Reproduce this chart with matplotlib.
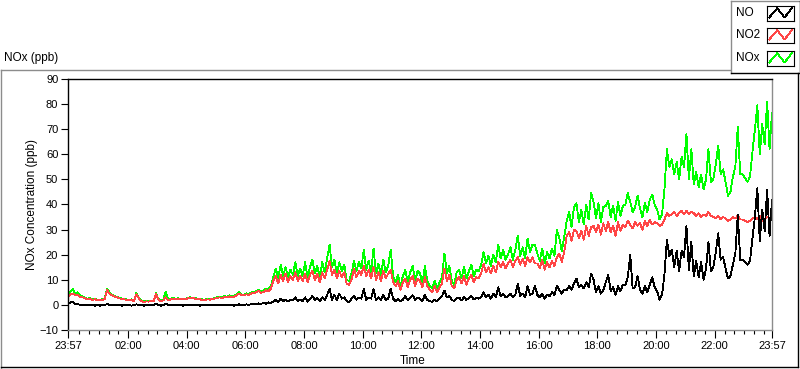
import numpy as np
import matplotlib
matplotlib.use("Agg")
import matplotlib.pyplot as plt
from matplotlib.lines import Line2D

plt.rcParams['font.family'] = ['Liberation Sans', 'DejaVu Sans']

# 5-minute readings, hours since 23:57 (one row per hour)
no2 = [
    3.0, 4.2, 4.5, 3.8, 4.0, 3.2, 3.0, 2.6, 2.2, 2.5, 2.0, 2.2,
    1.8, 1.9, 2.0, 2.3, 5.8, 4.5, 3.8, 3.3, 3.0, 2.6, 2.4, 2.2,
    2.0, 1.8, 2.0, 1.5, 4.3, 2.5, 1.5, 1.2, 1.4, 1.3, 1.6, 1.5,
    4.2, 2.0, 1.5, 1.8, 3.0, 1.8, 2.2, 2.5, 2.3, 2.4, 2.2, 2.3,
    2.2, 2.6, 2.8, 2.7, 2.5, 2.3, 2.2, 2.0, 2.0, 2.2, 2.1, 2.3,
    2.5, 2.8, 3.0, 2.7, 3.2, 3.0, 3.4, 3.1, 3.3, 3.8, 4.5, 3.8,
    3.8, 4.2, 4.0, 4.5, 4.8, 5.0, 5.5, 4.8, 5.2, 5.8, 5.5, 6.5,
    9.5, 11.5, 8.5, 12.0, 9.5, 12.5, 9.0, 11.5, 10.0, 13.0, 9.5, 11.5,
    9.5, 12.5, 9.0, 12.0, 13.5, 10.0, 12.5, 9.0, 13.0, 10.5, 14.0, 17.5,
    12.0, 14.0, 10.5, 13.5, 11.0, 13.0, 8.5, 8.0, 10.0, 14.5, 11.0, 13.5,
    12.0, 15.5, 11.5, 14.0, 10.5, 15.0, 10.0, 13.0, 9.5, 13.5, 10.5, 12.5,
    14.0, 9.0, 7.5, 9.5, 6.0, 9.0, 10.5, 7.0, 10.0, 11.5, 7.5, 10.5,
    9.5, 7.0, 11.0, 7.5, 6.0, 5.0, 7.5, 5.0, 7.0, 8.5, 14.5, 9.5,
    12.0, 7.5, 6.5, 10.0, 11.0, 8.5, 11.5, 8.0, 10.5, 12.0, 9.0, 11.0,
    10.5, 12.5, 16.5, 13.0, 15.0, 12.5, 15.5, 13.0, 17.0, 15.0, 17.0, 14.5,
    16.5, 18.0, 15.0, 17.5, 19.0, 16.0, 18.5, 15.5, 19.0, 17.0, 19.0, 16.5,
    16.5, 14.5, 18.0, 14.0, 17.0, 15.0, 17.5, 15.5, 19.0, 20.5, 17.0, 21.0,
    27.5, 29.0, 25.5, 30.0, 29.5, 26.5, 29.5, 26.0, 31.5, 27.5, 31.0, 31.5,
    29.0, 32.0, 28.0, 32.5, 29.5, 33.0, 29.0, 31.5, 27.5, 33.0, 29.5, 32.0,
    31.0, 33.5, 32.0, 30.5, 33.0, 31.5, 32.5, 30.0, 33.5, 31.5, 34.0, 32.0,
    33.0, 32.5, 31.5, 32.0, 34.0, 36.5, 35.5, 36.0, 37.0, 35.5, 36.5, 37.5,
    36.0, 37.5, 36.0, 37.0, 36.5, 35.5, 36.5, 35.0, 36.0, 35.5, 37.0, 35.5,
    35.0, 34.5, 35.5, 34.0, 35.0, 34.5, 33.5, 34.0, 35.0, 34.5, 35.5, 34.0,
    34.0, 33.5, 33.0, 33.5, 34.5, 35.0, 34.0, 35.5, 33.5, 34.0, 35.0, 34.5,
    34.5,
]
nox = [
    3.5, 5.5, 6.3, 4.5, 5.0, 3.6, 3.4, 2.8, 2.4, 2.7, 2.2, 2.4,
    2.0, 2.1, 2.2, 2.6, 6.5, 5.0, 4.0, 3.5, 3.2, 2.8, 2.5, 2.3,
    2.2, 2.0, 2.2, 1.7, 4.8, 2.8, 1.8, 1.4, 1.5, 1.4, 1.7, 1.6,
    4.6, 2.3, 1.7, 2.2, 5.2, 2.2, 2.5, 2.7, 2.5, 2.6, 2.4, 2.5,
    2.4, 2.8, 3.0, 2.9, 2.7, 2.5, 2.4, 2.2, 2.1, 2.3, 2.2, 2.5,
    2.7, 3.0, 3.3, 2.9, 3.5, 3.2, 3.8, 3.4, 3.6, 4.3, 5.2, 4.2,
    4.0, 4.6, 4.3, 5.0, 5.2, 5.4, 6.0, 5.2, 5.8, 6.5, 6.3, 7.5,
    11.0, 14.5, 10.5, 16.0, 11.5, 15.0, 11.0, 14.0, 12.0, 17.0, 11.5, 14.5,
    11.5, 17.0, 11.0, 15.0, 18.0, 12.5, 15.5, 11.0, 17.0, 13.0, 18.5, 24.0,
    15.0, 18.0, 12.5, 17.0, 13.5, 16.0, 10.0, 9.5, 12.5, 17.5, 13.5, 17.0,
    14.5, 22.0, 14.0, 17.5, 13.0, 22.5, 12.5, 16.5, 12.0, 18.0, 13.0, 15.5,
    22.0, 11.5, 9.0, 12.0, 7.5, 11.5, 14.0, 9.0, 13.0, 15.5, 9.5, 13.5,
    12.5, 8.5, 15.5, 9.5, 7.5, 6.5, 9.5, 6.5, 9.0, 11.0, 20.5, 12.5,
    15.5, 9.5, 8.0, 13.0, 14.0, 10.5, 15.0, 10.5, 13.5, 16.0, 11.5, 14.0,
    13.5, 16.0, 21.0, 16.5, 19.5, 15.5, 20.0, 17.0, 24.0, 18.5, 22.0, 18.0,
    20.0, 23.0, 18.0, 22.0, 27.5, 19.5, 23.0, 18.5, 26.5, 21.0, 24.0, 24.0,
    20.5, 17.5, 22.5, 16.5, 21.0, 18.5, 22.5, 19.5, 30.0, 26.5, 21.5, 27.0,
    33.5, 37.0, 31.0, 39.0, 40.5, 33.0, 38.0, 32.0, 40.0, 34.0, 44.5, 41.0,
    34.5, 40.5, 33.0, 39.0, 39.5, 41.5, 35.0, 39.5, 33.5, 41.0, 35.5, 39.5,
    40.0, 44.5, 41.0, 37.0, 39.0, 43.5, 38.5, 35.0, 40.5, 37.0, 42.0, 44.0,
    40.0, 38.0, 34.0, 36.0, 46.0, 62.0, 55.0, 58.0, 52.0, 57.0, 50.0, 59.0,
    55.0, 68.0, 50.0, 62.0, 48.0, 53.0, 47.0, 52.0, 46.0, 50.0, 62.0, 49.0,
    50.0, 56.0, 63.5, 52.0, 54.0, 49.0, 43.5, 45.0, 51.0, 55.0, 71.0, 52.0,
    52.0, 50.5, 49.0, 51.0, 61.0, 70.0, 79.5, 60.0, 72.0, 64.0, 81.0, 62.0,
    76.5,
]
no = [
    0.5, 1.0, 1.2, 0.4, 0.3, 0.0, 0.0, 0.0, -0.2, 0.0, 0.0, -0.3,
    0.0, -0.3, 0.0, 0.0, 0.3, 0.0, 0.0, -0.2, 0.0, 0.0, -0.3, 0.0,
    0.0, 0.0, -0.3, 0.0, 0.2, 0.0, 0.0, -0.3, 0.0, 0.0, 0.0, -0.2,
    0.5, 0.0, -0.3, 0.0, 0.5, 0.0, 0.0, 0.0, -0.2, 0.0, 0.0, -0.3,
    0.0, 0.0, -0.2, 0.0, 0.0, 0.0, -0.3, 0.0, 0.0, 0.0, -0.2, 0.0,
    0.0, 0.0, 0.0, -0.2, 0.0, 0.0, 0.0, 0.0, -0.3, 0.0, 0.2, 0.0,
    0.0, 0.2, 0.0, 0.3, 0.5, 0.3, 0.6, 0.4, 0.8, 0.5, 1.0, 0.8,
    1.2, 2.0, 1.0, 2.5, 1.5, 2.2, 1.3, 2.0, 1.8, 3.0, 1.5, 2.2,
    1.5, 3.0, 1.2, 2.5, 3.5, 1.8, 2.8, 1.5, 3.0, 2.0, 4.0, 6.4,
    2.0, 4.0, 2.0, 4.5, 2.5, 3.0, 1.5, 1.0, 2.5, 3.5, 2.0, 3.0,
    2.5, 6.4, 2.0, 3.0, 2.5, 6.2, 2.0, 3.0, 1.8, 4.0, 2.0, 2.5,
    6.4, 2.5, 1.5, 2.5, 1.5, 2.0, 3.5, 1.8, 3.0, 3.8, 2.0, 3.0,
    2.5, 1.5, 4.0, 2.0, 1.5, 1.2, 2.0, 1.5, 2.5, 3.5, 5.7, 3.0,
    3.5, 2.0, 1.5, 2.5, 3.0, 1.8, 3.0, 2.0, 2.8, 3.5, 2.2, 2.8,
    2.5, 3.0, 5.0, 3.0, 4.0, 2.5, 4.5, 3.0, 7.0, 3.5, 4.5, 3.0,
    3.5, 4.5, 3.0, 4.0, 8.4, 3.5, 4.5, 3.0, 7.5, 4.0, 4.5, 7.7,
    4.0, 3.0, 4.5, 2.5, 4.0, 3.5, 5.0, 4.0, 7.7, 6.0, 4.5, 6.0,
    6.0, 7.5, 6.0, 8.5, 10.5, 7.0, 8.0, 6.5, 9.0, 7.0, 12.5, 10.0,
    5.0, 7.5, 4.5, 6.0, 9.0, 12.0, 5.5, 7.0, 4.0, 7.5, 5.5, 8.0,
    8.0, 11.0, 20.0, 6.5, 7.0, 11.5, 6.0, 4.5, 7.5, 5.0, 8.0, 11.0,
    7.0, 5.5, 2.0, 4.0, 12.0, 26.0, 19.5, 22.0, 15.0, 21.5, 13.5, 21.5,
    19.0, 31.5, 14.0, 25.0, 11.5, 17.5, 11.0, 17.0, 10.0, 14.5, 25.0, 13.5,
    15.0, 21.0, 28.5, 18.0, 19.0, 14.5, 10.5, 11.5, 16.0, 20.5, 36.0, 18.0,
    18.0, 17.0, 16.0, 17.5, 26.5, 35.0, 46.5, 25.5, 38.0, 29.5, 46.0, 27.5,
    42.0,
]

hours = np.arange(len(no)) * 5 / 60.0
tick_pos = [0] + [2.05 + 2 * i for i in range(11)] + [24]
tick_lab = ["23:57", "02:00", "04:00", "06:00", "08:00", "10:00", "12:00",
            "14:00", "16:00", "18:00", "20:00", "22:00", "23:57"]

W, H = 800, 369
fig = plt.figure(figsize=(W / 100, H / 100), dpi=100)
fig.patch.set_facecolor("white")


def fx(x):
    return x / W


def fy(y):
    return 1 - y / H


def pline(xs, ys, color, lw=1.0):
    fig.add_artist(Line2D([fx(v) for v in xs], [fy(v) for v in ys],
                          color=color, lw=lw, transform=fig.transFigure))


ax = fig.add_axes([fx(68), fy(330), fx(772) - fx(68), fy(79) - fy(330)])
ax.plot(hours, nox, color="#00ff00", lw=0.6, antialiased=False)
ax.plot(hours, no2, color="#ff4646", lw=0.6, antialiased=False)
ax.plot(hours, no, color="black", lw=0.6, antialiased=False)

ax.set_xlim(0, 24)
ax.set_ylim(-10, 90)
ax.set_yticks(range(-10, 91, 10))
ax.set_xticks(tick_pos)
ax.set_xticklabels(tick_lab)
minor = [0.05 + k / 3 for k in range(72) if k % 6 != 0]
ax.set_xticks(minor, minor=True)
ax.tick_params(axis="both", which="major", labelsize=8, direction="out",
               length=5, width=0.8, pad=2)
ax.tick_params(axis="x", which="major", length=6)
ax.tick_params(axis="x", which="minor", direction="out", length=3, width=0.8)

for s in ["left", "top"]:
    ax.spines[s].set_color("black")
    ax.spines[s].set_linewidth(1.0)
for s in ["right", "bottom"]:
    ax.spines[s].set_color("#8c8c8c")
    ax.spines[s].set_linewidth(1.0)

fig.text(fx(4), fy(58), "NOx (ppb)", fontsize=8.5, va="center", ha="left")
fig.text(fx(32), fy(204), "NOx Concentration (ppb)", fontsize=8.5,
         rotation=90, va="center", ha="center")
fig.text(fx(413), fy(361), "Time", fontsize=8.5, va="center", ha="center")

# outer panel frame
pline([0.5, 730], [69.5, 69.5], "#8c8c8c")
pline([0.5, 0.5], [69.5, 368], "#8c8c8c")
pline([0.5, 798], [367, 367], "black")
pline([798, 798], [72.5, 367], "black")

# legend panel
pline([730.5, 730.5], [0.5, 72.5], "#8c8c8c")
pline([730.5, 799.5], [0.5, 0.5], "#8c8c8c")
pline([730.5, 799.5], [72.5, 72.5], "black")
pline([799.5, 799.5], [0.5, 72.5], "black")

leg_names = ["NO", "NO2", "NOx"]
leg_colors = ["black", "#ff4646", "#00ff00"]
leg_y = [13, 35, 58]
for name, col, yc in zip(leg_names, leg_colors, leg_y):
    fig.text(fx(736), fy(yc), name, fontsize=8.5, va="center", ha="left")
    bx = fig.add_axes([fx(767), fy(yc + 7.5), fx(794) - fx(767), fy(yc - 7.5) - fy(yc + 7.5)])
    bx.plot([0.08, 0.38, 0.65, 0.92], [0.2, 0.82, 0.2, 0.82], color=col,
            lw=0.6, antialiased=False)
    bx.set_xlim(0, 1)
    bx.set_ylim(0, 1)
    bx.set_xticks([])
    bx.set_yticks([])
    for s in bx.spines.values():
        s.set_color("black")
        s.set_linewidth(0.8)

fig.savefig("out.png", dpi=100, facecolor="white")
